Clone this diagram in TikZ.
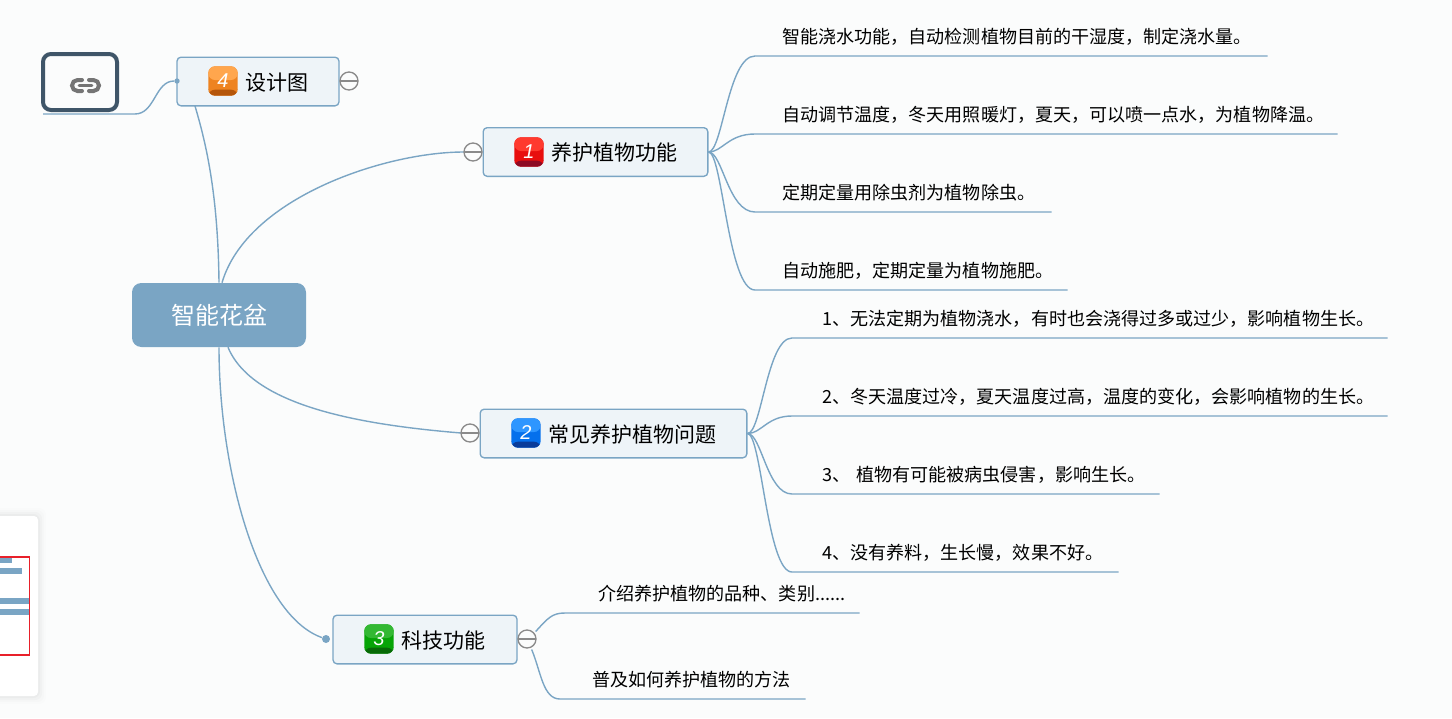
\documentclass[tikz,border=0pt]{standalone}
\usepackage{fontspec}
\setmainfont{Noto Sans CJK SC}
\newfontfamily\tagfont{Liberation Sans}
\usetikzlibrary{calc}
\definecolor{paper}{HTML}{FBFCFC}
\definecolor{branchblue}{HTML}{7AA5C4}
\definecolor{topicfill}{HTML}{EEF4F8}
\definecolor{linkslate}{HTML}{3F5568}
\definecolor{foldgray}{HTML}{8A8A8A}
\definecolor{framered}{HTML}{E8202A}
\definecolor{tagA}{HTML}{FF3A2E}\definecolor{tagAm}{HTML}{E80E0E}\definecolor{tagAd}{HTML}{8C0A24}
\definecolor{tagB}{HTML}{2E96FF}\definecolor{tagBm}{HTML}{0570EC}\definecolor{tagBd}{HTML}{0A3C9A}
\definecolor{tagC}{HTML}{33B833}\definecolor{tagCm}{HTML}{06A406}\definecolor{tagCd}{HTML}{076A07}
\definecolor{tagD}{HTML}{FFA64D}\definecolor{tagDm}{HTML}{EE8320}\definecolor{tagDd}{HTML}{B5560A}
\newcommand{\sixdots}{......}

\begin{document}
\begin{tikzpicture}[
  x=.75pt,y=-.75pt,
  every node/.style={font=\fontsize{13.55pt}{16pt}\selectfont,text=black},
  branch/.style={draw=branchblue,line width=1.05pt},
  topic/.style={draw=branchblue,fill=topicfill,rounded corners=3pt,line width=1pt,inner sep=0,minimum height=36.5pt},
  topictext/.style={anchor=west,inner sep=0,font=\fontsize{15.75pt}{18pt}\selectfont},
  tagbox/.style={rounded corners=5pt,minimum size=22pt,inner sep=0,fill=tag#1m,
    text=white,font=\fontsize{15pt}{16pt}\tagfont\itshape,
    path picture={
      \fill[tag#1] (path picture bounding box.north west) rectangle ($(path picture bounding box.east)+(0,-1)$);
      \fill[tag#1d] ($(path picture bounding box.south west)+(0,-6)$) rectangle (path picture bounding box.south east);
    }},
  fold/.style={circle,draw=foldgray,fill=paper,line width=1pt,minimum size=13.5pt,inner sep=0},
  leaf/.style={anchor=south west,inner sep=0,minimum height=29pt,align=left},
  enddot/.style={circle,fill=branchblue,inner sep=0,minimum size=6pt},
  chain/.style={draw=foldgray!85!black,line width=3pt,line cap=round}
]
\useasboundingbox (0,0) rectangle (1452,718);
\fill[paper] (0,0) rectangle (1452,718);

% overview panel at the left edge
\foreach \g/\o in {8/.008,6/.012,4/.018,2/.025} {
  \fill[black,opacity=\o,rounded corners=5pt] (-20,516-\g) rectangle (38+\g,696+\g);
}
\fill[white,rounded corners=3pt] (-20,516) rectangle (38,696);
\foreach \ya/\xb in {560/12,571/22,601/29,612/29} {
  \fill[branchblue] (0,\ya-3) rectangle (\xb,\ya+3);
}
\draw[framered,line width=1pt] (-5,557) rectangle (29.5,655);

% central topic
\node[rounded corners=7pt,fill=branchblue,minimum width=130.5pt,minimum height=48pt,inner sep=0,
  text=white,font=\fontsize{18pt}{20pt}\selectfont] (root) at (219,315) {\raisebox{-.8pt}{智能花盆}};

% main topics
\node[topic,minimum width=121.5pt] (design) at (258,81.5) {};
\node[topic,minimum width=168.5pt] (care) at (595.5,152) {};
\node[topic,minimum width=200pt] (issue) at (613.5,433.5) {};
\node[topic,minimum width=138pt] (tech) at (425,639.5) {};

\node[tagbox=D] (tagfour) at (223,81) {4};
\node[tagbox=A] (tagone) at (529,152) {1};
\node[tagbox=B] (tagtwo) at (526,433) {2};
\node[tagbox=C] (tagthree) at (379,639) {3};

\node[topictext] (designtext) at (245.5,82.5) {设计图};
\node[topictext] (caretext) at (551,152.5) {养护植物功能};
\node[topictext] (issuetext) at (548,434.5) {常见养护植物问题};
\node[topictext] (techtext) at (401,640.5) {科技功能};

% branches from the central topic
\coordinate (carein) at (464,152);
\coordinate (issuein) at (461,433);
\node[enddot] (techdot) at (326,639) {};
\node[enddot,minimum size=4pt] (designdot) at (177,81) {};

\draw[branch] (root.north) ++(3,0) .. controls +(25,-85) and (385,152) .. (carein);
\draw[branch] (root.south) ++(9,0) .. controls +(25,60) and (365,425) .. (issuein);
\draw[branch] (root.north) .. controls (218,190) and (205,140) .. (195,106);
\draw[branch] (root.south) .. controls (219,470) and (258,615) .. (techdot);

% link box with its chain icon
\node[draw=linkslate,line width=3pt,rounded corners=6pt,minimum width=55.5pt,minimum height=42pt,inner sep=0,fill=paper] (linkbox) at (80,82) {};
\coordinate (linkstart) at (43,114);
\coordinate (linkend) at (135,114);
\draw[branch] (linkstart) -- (linkend) .. controls (155,114) and (155,81) .. (designdot);
\draw[chain] (82,80) -- (77.5,80) arc[start angle=270,end angle=90,radius=5.5] -- (82,91);
\draw[chain] (89,80) -- (93.5,80) arc[start angle=-90,end angle=90,radius=5.5] -- (89,91);
\draw[chain,line width=2.2pt] (79,85.5) -- (92,85.5);

% subtopics with underlines
\foreach \nam/\x/\y/\w/\off/\txt in {
  careA/755/56/512/20.25/智能浇水功能，自动检测植物目前的干湿度，制定浇水量。,
  careB/755/134/582/20.25/自动调节温度，冬天用照暖灯，夏天，可以喷一点水，为植物降温。,
  careC/755/212/296/20.25/定期定量用除虫剂为植物除虫。,
  careD/755/290/312/20.25/自动施肥，定期定量为植物施肥。,
  issueA/792/338/595/22.5/1、无法定期为植物浇水，有时也会浇得过多或过少，影响植物生长。,
  issueB/792/416/595/22.5/2、冬天温度过冷，夏天温度过高，温度的变化，会影响植物的生长。,
  issueC/792/494/367/22.5/3、 植物有可能被病虫侵害，影响生长。,
  issueD/792/572/326/22.5/4、没有养料，生长慢，效果不好。,
  techA/565/613/294/24.75/介绍养护植物的品种、类别\sixdots,
  techB/560/699/245/24/普及如何养护植物的方法
} {
  \node[leaf,text width=\w*.75pt] (\nam) at (\x,\y) {\hspace*{\off pt}\txt};
}

\foreach \nam in {careA,careB,careC,careD} {
  \draw[branch] (care.east) .. controls +(14,0) and ($(\nam.south west)+(-27,0)$) .. (\nam.south west) -- (\nam.south east);
}
\foreach \nam in {issueA,issueB,issueC,issueD} {
  \draw[branch] (issue.east) .. controls +(14,0) and ($(\nam.south west)+(-25,0)$) .. (\nam.south west) -- (\nam.south east);
}
\draw[branch] (tech.east) ++(18,-8) .. controls (548,618) and (552,613) .. (techA.south west) -- (techA.south east);
\draw[branch] (tech.east) ++(14,10) .. controls (541,672) and (543,699) .. (techB.south west) -- (techB.south east);

% collapse buttons
\foreach \btn/\cx/\cy in {folddesign/349/81,foldcare/473/152,foldissue/470/433,foldtech/527/639} {
  \node[fold] (\btn) at (\cx,\cy) {};
  \draw[foldgray,line width=1pt] ($(\btn.west)+(1,0)$) -- ($(\btn.east)+(-1,0)$);
}
\end{tikzpicture}
\end{document}
